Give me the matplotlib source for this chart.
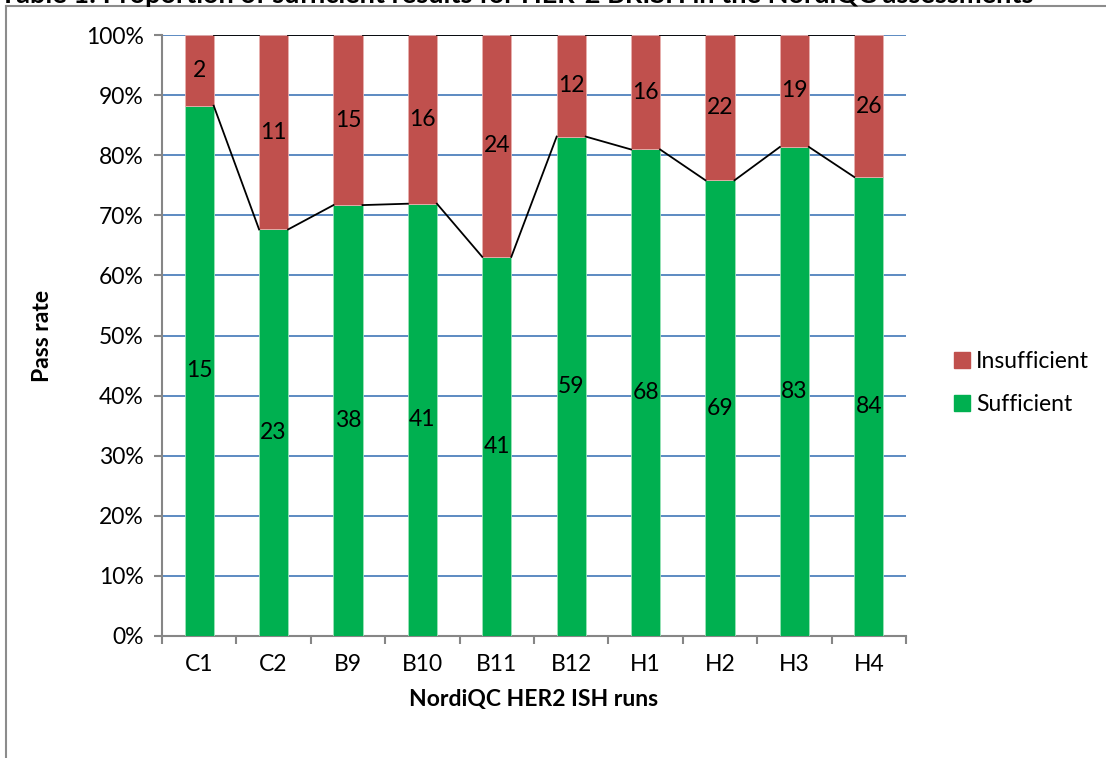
import numpy as np
import matplotlib
matplotlib.use("Agg")
from matplotlib import pyplot as plt
from matplotlib.lines import Line2D

runs = ["C1", "C2", "B9", "B10", "B11", "B12", "H1", "H2", "H3", "H4"]
sufficient = [15, 23, 38, 41, 41, 59, 68, 69, 83, 84]
insufficient = [2, 11, 15, 16, 24, 12, 16, 22, 19, 26]
title = "Table 1: Proportion of sufficient results for HER-2 BRISH in the NordiQC assessments"

green = "#00B050"
red = "#C0504D"
grid_blue = "#4F81BD"
axis_gray = "#868686"
fs = 16.5

plt.rcParams["font.family"] = ["Lato", "DejaVu Sans"]

suf = np.array(sufficient, dtype=float)
ins = np.array(insufficient, dtype=float)
total = suf + ins
p_suf = suf / total * 100
p_ins = ins / total * 100

fig = plt.figure(figsize=(11.06, 7.58), dpi=100)
ax = fig.add_axes([162 / 1106, 1 - 636 / 758, 744 / 1106, 601 / 758])

x = np.arange(len(runs))
w = 0.39
ax.bar(x, p_suf, w, color=green, edgecolor="#9be3b8", linewidth=0.6, zorder=3, label="Sufficient")
ax.bar(x, p_ins, w, bottom=p_suf, color=red, edgecolor="#e8b0ae", linewidth=0.6, zorder=3, label="Insufficient")

# series lines between bars
for i in range(len(runs) - 1):
    ax.plot([x[i] + w / 2, x[i + 1] - w / 2], [p_suf[i], p_suf[i + 1]], color="black", lw=1.3, zorder=4)
    ax.plot([x[i] + w / 2, x[i + 1] - w / 2], [100, 100], color="black", lw=1.3, zorder=4)

# value labels
for i in range(len(runs)):
    ax.text(x[i], p_suf[i] / 2, str(sufficient[i]), ha="center", va="center", fontsize=fs, zorder=5)
    ax.text(x[i], p_suf[i] + p_ins[i] / 2, str(insufficient[i]), ha="center", va="center", fontsize=fs, zorder=5)

ax.set_xlim(-0.5, len(runs) - 0.5)
ax.set_ylim(0, 100)
ax.set_yticks(np.arange(0, 101, 10))
ax.set_yticklabels([f"{v}%" for v in range(0, 101, 10)], fontsize=fs)
ax.set_xticks(x)
ax.set_xticklabels(runs, fontsize=fs)
ax.set_xticks(np.arange(-0.5, len(runs), 1), minor=True)
ax.tick_params(axis="x", which="major", length=0, pad=13)
ax.tick_params(axis="x", which="minor", length=6, color=axis_gray, width=1.5)
ax.tick_params(axis="y", length=6, color=axis_gray, width=1.5, pad=7)
ax.yaxis.grid(True, color=grid_blue, lw=1.3, zorder=0)
ax.set_axisbelow(True)
for s in ["top", "right"]:
    ax.spines[s].set_visible(False)
for s in ["left", "bottom"]:
    ax.spines[s].set_color(axis_gray)
    ax.spines[s].set_linewidth(1.5)

ax.set_ylabel("Pass rate", fontsize=fs, fontweight="bold", labelpad=24)
ax.set_xlabel("NordiQC HER2 ISH runs", fontsize=fs, fontweight="bold", labelpad=10)

handles = [Line2D([], [], marker="s", ls="", color=red, markersize=11),
           Line2D([], [], marker="s", ls="", color=green, markersize=11)]
fig.legend(handles, ["Insufficient", "Sufficient"], loc="center left",
           bbox_to_anchor=(930 / 1106, 1 - 383 / 758), frameon=False, fontsize=fs,
           handletextpad=0.1, labelspacing=1.0, handlelength=1.0)

# outer frame, title mostly cut off at top as in the source
fig.add_artist(Line2D([6 / 1106, 6 / 1106], [0, 1 - 6 / 758], color="#8c8c8c", lw=1.5))
fig.add_artist(Line2D([6 / 1106, 1], [1 - 6 / 758, 1 - 6 / 758], color="#8c8c8c", lw=1.5))
fig.text(0.0, 1 - 3 / 758, title, fontsize=19.5, fontweight="bold", va="baseline", ha="left")

fig.savefig("out.png", dpi=100)
